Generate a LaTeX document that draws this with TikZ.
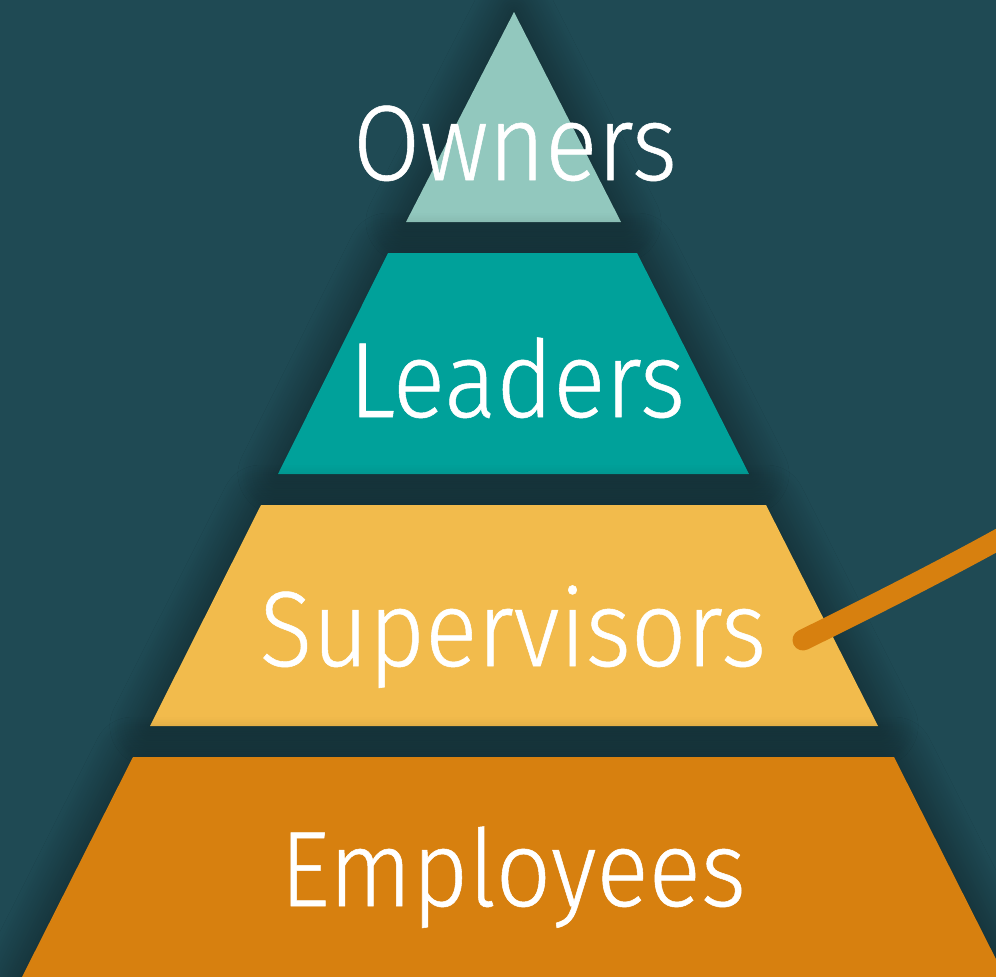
\documentclass[tikz,border=0pt]{standalone}
\usepackage{fontspec}
\setmainfont{Fira Sans Light}[FakeStretch=0.91, FakeBold=0.5]
\usetikzlibrary{shadows.blur}
\definecolor{Backdrop}{HTML}{1F4A54}
\definecolor{Mint}{HTML}{92C8BE}
\definecolor{Teal}{HTML}{00A19A}
\definecolor{Mustard}{HTML}{F2BB4C}
\definecolor{Ochre}{HTML}{D7800F}

\begin{document}
\begin{tikzpicture}[
    x=1pt,y=-1pt,
    tier/.style={blur shadow={shadow xshift=0pt, shadow yshift=0pt,
      shadow blur radius=40pt, shadow opacity=55, shadow blur steps=18}},
    tiername/.style={text=white, inner sep=0pt, anchor=base,
      font=\fontsize{107}{110}\selectfont},
    pointer/.style={draw=Ochre, line width=21pt, line cap=round}
  ]
    \useasboundingbox (0,0) rectangle (996,977);
    \clip (0,0) rectangle (996,977);
    \fill[Backdrop] (0,0) rectangle (996,977);

    % pyramid, top to bottom
    \fill[Mint, tier] (514,12) -- (621,222) -- (406,222) -- cycle;
    \fill[Teal, tier] (388,253) -- (637,253) -- (749,474) -- (278,474) -- cycle;
    \fill[Mustard, tier] (261,505) -- (766,505) -- (878,726) -- (150,726) -- cycle;
    \fill[Ochre, tier] (133,757) -- (894,757) -- (1005,977) -- (22,977) -- cycle;

    \node[tiername] (owners) at (515,180) {Owners};
    \node[tiername] (leaders) at (517,417) {Leaders};
    \node[tiername] (supervisors) at (513,666) {Supervisors};
    \node[tiername] (employees) at (513,906) {Employees};

    \coordinate (tip) at (803,640);
    \coordinate (edge) at (1010,533);
    \draw[pointer] (tip) .. controls (860,612) and (940,572) .. (edge);
  \end{tikzpicture}
\end{document}
